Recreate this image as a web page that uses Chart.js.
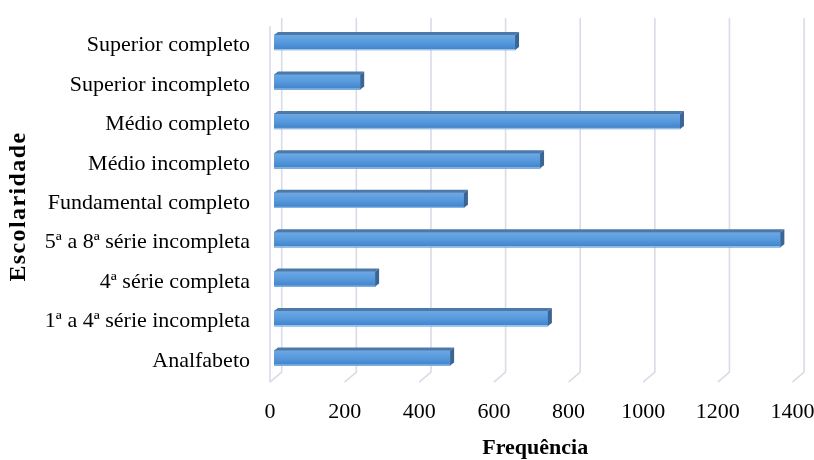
<!DOCTYPE html>
<html lang="pt">
<head>
<meta charset="utf-8">
<title>Escolaridade</title>
<script src="https://cdn.jsdelivr.net/npm/chart.js@4/dist/chart.umd.min.js"></script>
<style>
  html, body { margin: 0; padding: 0; background: #ffffff; }
  #wrap { width: 814px; height: 460px; }
</style>
</head>
<body>
<div id="wrap"><canvas id="chart" width="814" height="460"></canvas></div>
<script>
// Education level (top to bottom) and number of people in each group
const categories = [
  'Superior completo',
  'Superior incompleto',
  'Médio completo',
  'Médio incompleto',
  'Fundamental completo',
  '5ª a 8ª série incompleta',
  '4ª série completa',
  '1ª a 4ª série incompleta',
  'Analfabeto'
];
const frequencies = [646, 231, 1088, 713, 509, 1357, 271, 734, 472];

// Value axis ticks
const axisMin = 0;
const axisMax = 1400;
const axisStep = 200;

const valueTitle = 'Frequência';
const categoryTitle = 'Escolaridade';

const serif = "'Liberation Serif', 'Times New Roman', serif";

// Depth of the 3D box and of the bars (pixels)
const BOX_DX = 11.7, BOX_DY = 10;   // floor front edge -> back wall
const WALL_DX = 7.7;                // bar plane -> back wall
const BAR_DX = 4, BAR_DY = 3;       // bar thickness in depth

// Back wall grid, floor lines, the bars' top / end faces and the rotated axis title
const depth3d = {
  id: 'depth3d',
  beforeDatasetsDraw(chart) {
    const ctx = chart.ctx;
    const xs = chart.scales.x;
    const area = chart.chartArea;
    const floorY = area.bottom - 5.5;
    const topY = 18;
    ctx.save();
    ctx.strokeStyle = '#d9dce6';
    ctx.lineWidth = 1.6;
    for (let v = axisMin; v <= axisMax; v += axisStep) {
      const bx = xs.getPixelForValue(v) + WALL_DX;
      ctx.beginPath();
      ctx.moveTo(bx, topY);
      ctx.lineTo(bx, floorY);
      ctx.lineTo(bx - BOX_DX, floorY + BOX_DY);
      ctx.stroke();
    }
    // front edge of the left wall
    const lx = xs.getPixelForValue(axisMin) + WALL_DX - BOX_DX;
    ctx.beginPath();
    ctx.moveTo(lx, topY + 8);
    ctx.lineTo(lx, floorY + BOX_DY);
    ctx.stroke();
    ctx.restore();
  },
  afterDatasetsDraw(chart) {
    const ctx = chart.ctx;
    const meta = chart.getDatasetMeta(0);
    ctx.save();
    meta.data.forEach((bar) => {
      const p = bar.getProps(['x', 'y', 'base', 'height'], true);
      const left = Math.min(p.base, p.x);
      const right = Math.max(p.base, p.x);
      const top = p.y - p.height / 2;
      const bottom = p.y + p.height / 2;

      // front face with vertical shading
      const g = ctx.createLinearGradient(0, top, 0, bottom);
      g.addColorStop(0, '#6ca8e4');
      g.addColorStop(0.5, '#5799dc');
      g.addColorStop(1, '#3d82ca');
      ctx.fillStyle = g;
      ctx.fillRect(left, top, right - left, bottom - top);
      ctx.strokeStyle = 'rgba(170, 200, 235, 0.9)';
      ctx.lineWidth = 1;
      ctx.beginPath();
      ctx.moveTo(left, bottom - 0.5);
      ctx.lineTo(right, bottom - 0.5);
      ctx.stroke();

      // top face
      ctx.fillStyle = '#4d79a9';
      ctx.beginPath();
      ctx.moveTo(left, top);
      ctx.lineTo(right, top);
      ctx.lineTo(right + BAR_DX, top - BAR_DY);
      ctx.lineTo(left + BAR_DX, top - BAR_DY);
      ctx.closePath();
      ctx.fill();

      // end face
      ctx.fillStyle = '#3a6594';
      ctx.beginPath();
      ctx.moveTo(right, top);
      ctx.lineTo(right + BAR_DX, top - BAR_DY);
      ctx.lineTo(right + BAR_DX, bottom - BAR_DY);
      ctx.lineTo(right, bottom);
      ctx.closePath();
      ctx.fill();
    });
    ctx.restore();
  },
  afterDraw(chart) {
    // category axis title, rotated and slightly letter-spaced
    const ctx = chart.ctx;
    const area = chart.chartArea;
    const spacing = 1.4;
    ctx.save();
    ctx.translate(19, (area.top + area.bottom) / 2 + 7);
    ctx.rotate(-Math.PI / 2);
    ctx.font = 'bold 24px ' + serif;
    ctx.fillStyle = '#000000';
    ctx.textAlign = 'center';
    ctx.textBaseline = 'middle';
    if ('letterSpacing' in ctx) ctx.letterSpacing = spacing + 'px';
    ctx.fillText(categoryTitle, spacing / 2, 0);
    ctx.restore();
  }
};

new Chart(document.getElementById('chart'), {
  type: 'bar',
  data: {
    labels: categories,
    datasets: [{
      label: valueTitle,
      data: frequencies,
      backgroundColor: '#5799dc',
      borderWidth: 0,
      barThickness: 15
    }]
  },
  options: {
    indexAxis: 'y',
    responsive: false,
    animation: false,
    events: [],
    layout: { padding: { left: 0, right: 17.6, top: 22.8, bottom: 0 } },
    plugins: {
      legend: { display: false },
      tooltip: { enabled: false }
    },
    scales: {
      x: {
        min: axisMin,
        max: axisMax,
        grid: { display: false, drawTicks: false },
        border: { display: false },
        ticks: {
          stepSize: axisStep,
          padding: 21,
          labelOffset: -4,
          color: '#000000',
          font: { family: serif, size: 22 },
          callback: (value) => String(value)
        },
        title: {
          display: true,
          text: valueTitle,
          color: '#000000',
          padding: { top: 0, bottom: -2 },
          font: { family: serif, size: 22, weight: 'bold' }
        },
        afterFit(scale) {
          scale.height = 82.3;
          scale.paddingLeft = 0;
          scale.paddingRight = 0;
        }
      },
      y: {
        grid: { display: false, drawTicks: false },
        border: { display: false },
        ticks: {
          padding: 24,
          labelOffset: 3,
          color: '#000000',
          font: { family: serif, size: 22 }
        },
        title: { display: false },
        afterFit(scale) {
          scale.width = 274;
          scale.paddingTop = 0;
          scale.paddingBottom = 0;
        }
      }
    }
  },
  plugins: [depth3d]
});
</script>
</body>
</html>
